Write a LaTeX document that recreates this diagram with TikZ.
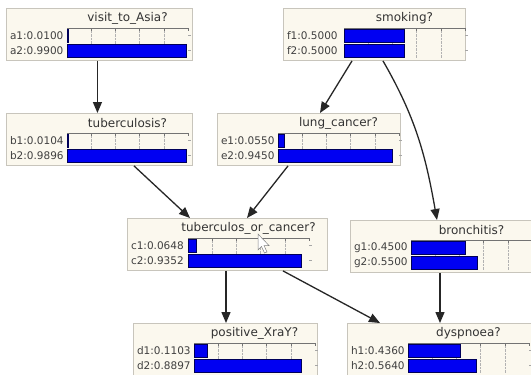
\documentclass[tikz,border=0pt]{standalone}
\usepackage{fontspec}
\setmainfont{DejaVu Sans}
\usepackage{tikz}
\usetikzlibrary{arrows.meta, calc, positioning}
\usepackage{xcolor}

\definecolor{boxfill}{HTML}{FBF8EE}
\definecolor{boxline}{HTML}{C8C5BC}
\definecolor{barblue}{HTML}{0000F2}

\tikzset{
  bnbox/.style={draw=boxline, fill=boxfill, line width=0.9pt, minimum height=52pt, inner sep=0pt, anchor=north west},
  bnbar/.style={fill=barblue, draw=blue!35!black, line width=0.6pt},
  link/.style={-{Triangle[length=11pt,width=9pt]}, line width=1.3pt, black!85},
}

% one node of the network: name, x, y, width, title, state 1, p1, state 2, p2
\newcommand{\bnnode}[9]{%
  \node[bnbox, minimum width=#4pt] (#1) at (#2,#3) {};
  \begin{scope}[shift={(#1.north west)}]
    \node[font=\fontsize{12}{12}\selectfont, text=black!80] at (121.5,10) {#5};
    \node[font=\fontsize{10.5}{10.5}\selectfont, text=black!75, anchor=west] at (0.5,27.5) {#6:#7};
    \node[font=\fontsize{10.5}{10.5}\selectfont, text=black!75, anchor=west] at (0.5,42.5) {#8:#9};
    \foreach \f in {0.2,0.4,0.6,0.8}
      \draw[gray!60, densely dotted] (61+121*\f,20) -- (61+121*\f,50);
    \draw[black!55, line width=0.5pt] (61,20) -- (182,20);
    \foreach \f in {0,0.2,0.4,0.6,0.8,1}
      \draw[black!55, line width=0.5pt] (61+121*\f,20) -- (61+121*\f,23);
    \draw[gray!70] (182,27.5) -- (185,27.5);
    \draw[gray!70] (182,42.5) -- (185,42.5);
    \draw[bnbar] (61,21.5) rectangle ++(121*#7,12.5);
    \draw[bnbar] (61,36) rectangle ++(121*#9,13);
  \end{scope}}

\begin{document}
\begin{tikzpicture}[x=1pt, y=-1pt]
    \fill[white] (0,0) rectangle (531,375);
    \useasboundingbox (0,0) rectangle (531,375);

    \bnnode{visit}{6}{8}{186}{visit\_to\_Asia?}{a1}{0.0100}{a2}{0.9900}
    \bnnode{smoking}{283}{8}{182}{smoking?}{f1}{0.5000}{f2}{0.5000}
    \bnnode{tub}{6}{113}{186}{tuberculosis?}{b1}{0.0104}{b2}{0.9896}
    \bnnode{lung}{217}{113}{183}{lung\_cancer?}{e1}{0.0550}{e2}{0.9450}
    \bnnode{toc}{127}{218}{200}{tuberculos\_or\_cancer?}{c1}{0.0648}{c2}{0.9352}
    \bnnode{bron}{350}{220}{186}{bronchitis?}{g1}{0.4500}{g2}{0.5500}
    \bnnode{xray}{133}{323}{184}{positive\_XraY?}{d1}{0.1103}{d2}{0.8897}
    \bnnode{dysp}{347}{323}{186}{dyspnoea?}{h1}{0.4360}{h2}{0.5640}

    % mouse pointer
    \draw[gray, fill=white, line width=0.5pt] (258,234) -- (258,250) -- (261.5,246.5) -- (264.5,253) -- (267,252) -- (264,245.5) -- (269,245.5) -- cycle;

    \draw[link] ([xshift=-2pt]visit.south) -- ([xshift=-2pt]tub.north);
    \draw[link] ([xshift=69pt]smoking.south west) -- ([xshift=103pt]lung.north west);
    \draw[link] ([xshift=100pt]smoking.south west) to[out=-60, in=100] ([xshift=87pt]bron.north west);
    \draw[link] ([xshift=128pt]tub.south west) -- ([xshift=63pt]toc.north west);
    \draw[link] ([xshift=71pt]lung.south west) -- ([xshift=120pt]toc.north west);
    \draw[link] ([xshift=99pt]toc.south west) -- ([xshift=93pt]xray.north west);
    \draw[link] ([xshift=156pt]toc.south west) -- ([xshift=33pt]dysp.north west);
    \draw[link] ([xshift=90pt]bron.south west) -- ([xshift=93pt]dysp.north west);
\end{tikzpicture}
\end{document}
